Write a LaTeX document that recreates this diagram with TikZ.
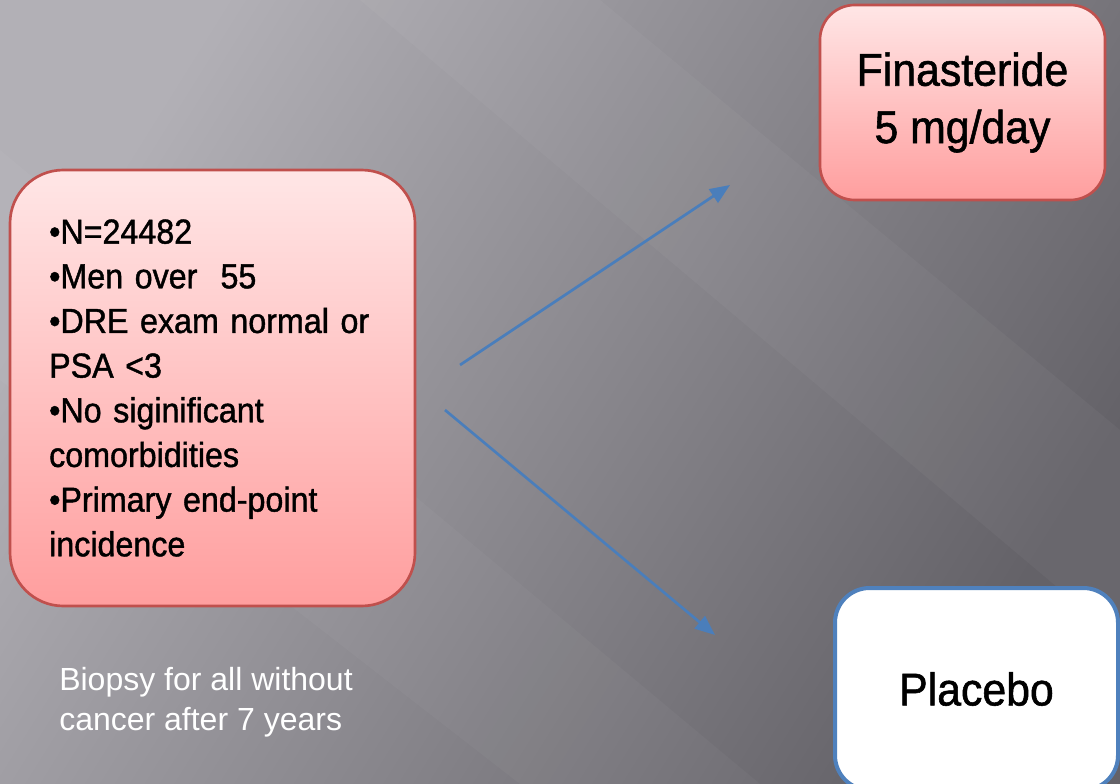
\documentclass[tikz,border=0pt]{standalone}
\usepackage{fontspec}
\setmainfont{Liberation Sans}[FakeStretch=0.93, FakeBold=1.2]
\newfontfamily\capfont{Liberation Sans}
\usepackage{xcolor}
\usetikzlibrary{arrows.meta, positioning, calc}

\definecolor{bgLight}{RGB}{178,176,182}
\definecolor{bgDark}{RGB}{100,98,104}
\definecolor{boxRed}{RGB}{192,80,77}
\definecolor{pinkTop}{RGB}{255,230,230}
\definecolor{pinkBot}{RGB}{255,158,158}
\definecolor{armBlue}{RGB}{74,126,187}
\definecolor{plBlue}{RGB}{79,129,189}

\tikzset{
  pinkbox/.style={draw=boxRed, line width=2pt, top color=pinkTop, bottom color=pinkBot, inner sep=0pt},
  whitebox/.style={draw=plBlue, line width=3pt, fill=white, inner sep=0pt},
  arm/.style={draw=armBlue, line width=2pt, -{Triangle[length=15pt,width=12pt]}}
}

\begin{document}
\begin{tikzpicture}[x=0.75pt,y=-0.75pt]
  \useasboundingbox (0,0) rectangle (1120,784);
  \clip (0,0) rectangle (1120,784);
  % slide background
  \shade[top color=bgLight, bottom color=bgDark, shading angle=58] (0,0) rectangle (1120,784);
  \fill[white, opacity=0.035] (360,0) -- (600,0) -- (1120,430) -- (1120,640) -- cycle;
  \fill[white, opacity=0.03] (0,150) -- (0,380) -- (520,784) -- (760,784) -- cycle;
  % study population
  \node[pinkbox, rounded corners=40pt, minimum width=303.75pt, minimum height=327pt,
        text width=245pt, align=left, font=\fontsize{26}{33.5}\selectfont] (crit) at (212.5,388)
    {•N=24482\\•Men over\ \ 55\\•DRE exam normal or\\PSA <3\\•No siginificant\\comorbidities\\•Primary end-point\\incidence};
  % arms
  \node[pinkbox, rounded corners=26pt, minimum width=213.75pt, minimum height=146.25pt,
        align=center, font=\fontsize{34.5}{43}\selectfont] (fin) at (962.5,102.5)
    {Finasteride\\5 mg/day};
  \node[whitebox, rounded corners=26pt, minimum width=212.25pt, minimum height=151.5pt,
        font=\fontsize{34.5}{41}\selectfont] (plac) at (976.5,689) {Placebo};
  % randomisation
  \coordinate (upFrom) at (460,365);
  \coordinate (upTo) at (730,185);
  \coordinate (dnFrom) at (445,410);
  \coordinate (dnTo) at (715,635);
  \draw[arm] (upFrom) -- (upTo);
  \draw[arm] (dnFrom) -- (dnTo);
  \node[anchor=west, align=left, text=white, inner sep=0pt,
        font=\capfont\fontsize{24}{30}\selectfont] (biopsy) at (59,702)
    {Biopsy for all without\\cancer after 7 years};
\end{tikzpicture}
\end{document}
